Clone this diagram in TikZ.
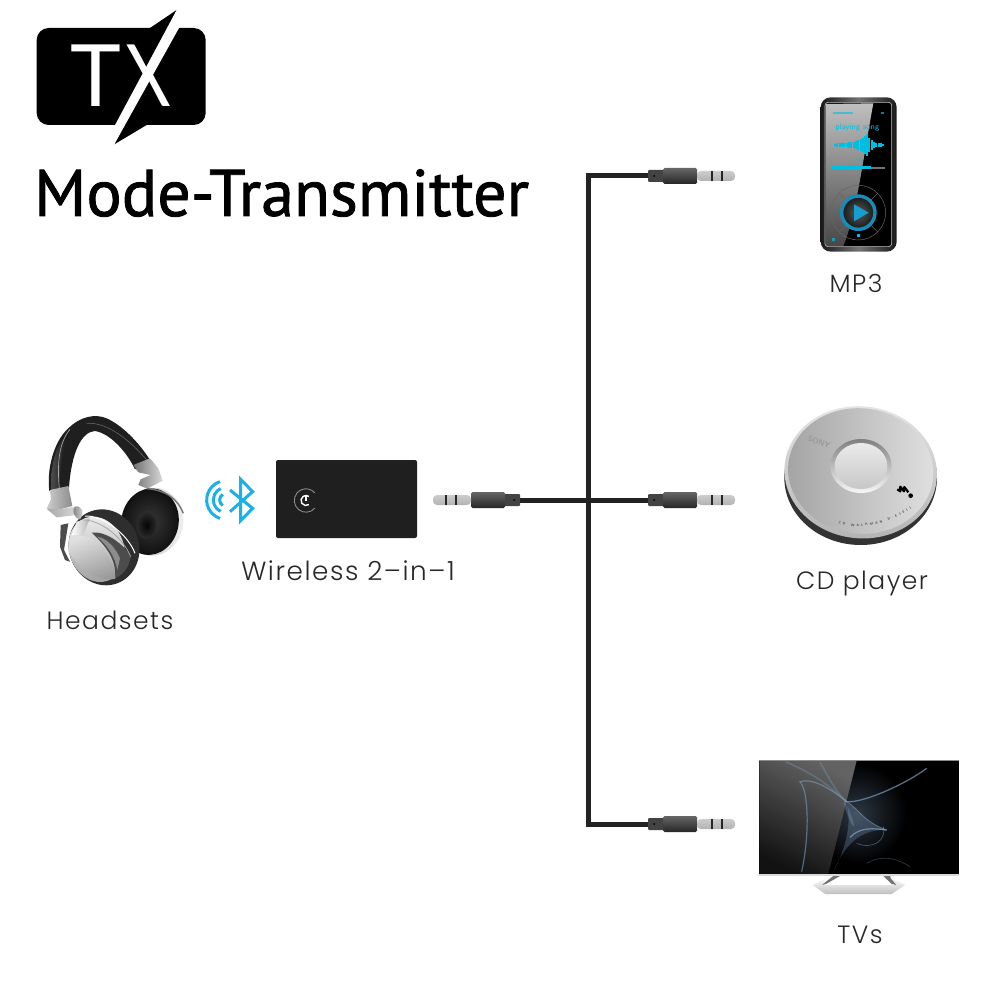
\documentclass[tikz,border=0pt]{standalone}
\usepackage{fontspec}
\usetikzlibrary{positioning, calc, decorations.text}
\newfontfamily\titlefont[FakeBold=1.3]{PT Sans}
\newfontfamily\badgefont{Lato}
\newfontfamily\labelfont[LetterSpace=6,UprightFont=* Light]{Poppins}
\definecolor{cablegray}{RGB}{34, 34, 34}
\definecolor{btblue}{RGB}{26, 176, 232}
\definecolor{lcdcyan}{RGB}{0, 190, 225}
\definecolor{labelgray}{RGB}{40, 40, 40}
\definecolor{wispblue}{RGB}{125, 155, 190}

\tikzset{
    jack/.pic={
        % strain relief, barrel, metal tip
        \fill[rounded corners=1pt, cablegray!85!white] (0,-6) rectangle (16,6);
        \shade[top color=black!60, bottom color=black!85, rounded corners=1.5pt] (15,-8) rectangle (49,8);
        \shade[top color=black!20, middle color=white, bottom color=black!30, rounded corners=4pt] (49,-5) rectangle (87,5);
        \fill[black!85] (63,-5) rectangle (65,5);
        \fill[black!85] (73,-5) rectangle (75,5);
        \fill[black] (6,0) circle (1);
        \coordinate (-wire) at (0,0);
    }
}

\begin{document}
\begin{tikzpicture}[
    x=1pt, y=-1pt,
    devicelabel/.style={text=labelgray, inner sep=0pt, anchor=base, font=\labelfont\fontsize{25}{30}\selectfont},
    badgeletter/.style={text=white, inner sep=0pt, anchor=base west, font=\badgefont\fontsize{86}{90}\selectfont},
    cable/.style={line width=5pt, cablegray, line join=miter},
    btstroke/.style={btblue, line width=3pt}
]
    \useasboundingbox (0,0) rectangle (1000,1000);
    \fill[white] (0,0) rectangle (1000,1000);

    % TX badge
    \begin{scope}[shift={(20,0)}, scale=1/3]
        \fill[black, rounded corners=12pt] (50,84) rectangle (557,375);
        \fill[black] (390,84) -- (470,30) -- (440,90) -- cycle;
        \fill[black] (380,375) -- (283,433) -- (320,360) -- cycle;
    \end{scope}
    \fill[white] (176.7,10) -- (189,10) -- (114.3,144.3) -- (104.7,144.3) -- cycle;
    \node[badgeletter] (txt) at (70,107) {T};
    \node[badgeletter, xscale=.82, transform shape] (txx) at (125,107) {X};
    \node[inner sep=0pt, anchor=base west, font=\titlefont\fontsize{66}{70}\selectfont] (title) at (34,216) {Mode-Transmitter};

    % Plugs and cables
    \pic[xscale=-1] (jackout) at (520,500) {jack};
    \pic (jackmp) at (648,176) {jack};
    \pic (jackcd) at (648,500) {jack};
    \pic (jacktv) at (648,824) {jack};
    \coordinate (hub) at (588,500);
    \draw[cable] (jackout-wire) -- (jackcd-wire);
    \draw[cable] (jackmp-wire) -| (hub) |- (jacktv-wire);

    % MP3 player
    \begin{scope}[shift={(780,80)}, scale=1/3]
        \shade[left color=black!90, right color=black!90, middle color=black!55, rounded corners=10pt] (122,52) rectangle (350,515);
        \fill[black, rounded corners=3pt] (135,67) rectangle (335,500);
        \shade[top color=black!25, bottom color=black!72] (137,72) -- (280,70) .. controls (250,230) and (230,400) .. (190,498) -- (137,498) -- cycle;
        \draw[black!25, line width=0.6pt, rounded corners=3pt] (135,67) rectangle (335,500);
        \fill[lcdcyan, opacity=.6] (160,97) rectangle (220,103);
        \fill[lcdcyan, opacity=.7] (304,95) rectangle (312,103);
        \node[text=lcdcyan, inner sep=0pt, font=\sffamily\fontsize{8}{9}\selectfont] (songname) at (232,143) {playing song};
        \foreach \wx/\wh in {165/4,172/5,179/5,186/6,193/7,200/7,207/8,214/9,221/10,228/13,235/15,242/17,249/20,256/28,262/34,268/22,275/15,282/9,289/7,296/6,303/5,309/3}
            \draw[lcdcyan, line width=2.3pt] (\wx,195-\wh) -- (\wx,195+\wh);
        \node[text=lcdcyan, opacity=.6, inner sep=0pt, font=\sffamily\fontsize{4}{5}\selectfont] (songtime) at (238,241) {1:58};
        \fill[black!55] (155,260) rectangle (315,266);
        \fill[lcdcyan] (155,259) rectangle (272,267);
        % round control pad
        \draw[black!60, line width=0.5pt] (235,398) circle (82);
        \foreach \padang in {45,135,225,315}
            \draw[black!60, line width=0.5pt] (235,398)+(\padang:52) -- +(\padang:82);
        \shade[inner color=black!65, outer color=black!90] (235,398) circle (48);
        \draw[black!20!btblue, line width=3.4pt] (235,398) circle (50);
        \fill[black!10!btblue] (222,373) -- (266,398) -- (222,424) -- cycle;
        \fill[lcdcyan] (232,462) rectangle (239,471);
        \fill[lcdcyan, opacity=.7] (156,473) rectangle (164,482);
    \end{scope}
    \node[devicelabel] (mplabel) at (856,292) {MP3};

    % CD player
    \begin{scope}[shift={(770,395)}, scale=1/3]
        \fill[black!80] (272,248) ellipse (229 and 202);
        \shade[top color=black!10, bottom color=black!30, rotate around={-6:(272,232)}] (272,232) ellipse (229 and 198);
        \shade[left color=black!36, right color=black!12, rotate around={-6:(272,228)}] (272,228) ellipse (218 and 188);
        \shade[top color=black!50, bottom color=black!3] (273,213) ellipse (92 and 81);
        \shade[top color=black!8, bottom color=black!22] (273,213) ellipse (79 and 69);
        \node[text=black!40, rotate=-20, inner sep=0pt, font=\sffamily\bfseries\fontsize{8}{9}\selectfont] (brandmark) at (147,142) {SONY};
        \draw[black, line width=2.2pt, line join=round] (382,283) -- (391,289) -- (391,275) -- (402,289) -- (403,276) -- (415,292);
        \fill[black] (422,302) circle (7);
        \path[decorate, decoration={text along path, text align={fit to path}, text={|\sffamily\bfseries\fontsize{3.4}{4}\selectfont\color{black!70}|CD WALKMAN D-EJ011}}]
            (205,385) .. controls (270,408) and (360,385) .. (425,340);
    \end{scope}
    \node[devicelabel] (cdlabel) at (862,589) {CD player};

    % TV set
    \begin{scope}[shift={(750,750)}, scale=1/3]
        \fill[black] (28,30) rectangle (628,372);
        \shade[inner color=wispblue!35!black, outer color=black] (320,190) circle (150);
        \shade[bottom color=black!92, top color=black!58, shading angle=-25, opacity=.92] (28,32) -- (320,32) -- (235,372) -- (28,372) -- cycle;
        \draw[black!45] (28,30) -- (628,30);
        \foreach \wispa/\wispb/\wispc/\wispd in {
            108/36/215/80, 210/36/240/90, 285/155/350/320}
            \draw[wispblue, line width=1.6pt, opacity=.35] (\wispa,\wispb) .. controls (\wispc,\wispd) and (260,130) .. (290,155);
        \draw[wispblue, line width=1.2pt, opacity=.6] (155,365) .. controls (180,250) and (175,120) .. (150,95) .. controls (200,80) and (270,140) .. (290,155);
        \fill[wispblue, opacity=.3] (290,155) .. controls (330,180) and (340,215) .. (410,240) .. controls (330,235) and (280,290) .. (250,365) .. controls (290,290) and (305,220) .. (290,155) -- cycle;
        \draw[wispblue, line width=1.2pt, opacity=.8] (300,262) .. controls (330,230) and (370,235) .. (410,240);
        \draw[wispblue, line width=0.8pt, opacity=.6] (290,155) .. controls (330,180) and (340,215) .. (410,240);
        \draw[wispblue, line width=0.7pt, opacity=.5] (320,280) .. controls (370,300) and (410,270) .. (400,230);
        \draw[wispblue, line width=0.7pt, opacity=.35] (350,340) .. controls (400,310) and (450,330) .. (480,350);
        \draw[wispblue, line width=1.3pt, opacity=.7] (290,155) .. controls (340,160) and (470,100) .. (530,55);
        \fill[black!15] (28,372) rectangle (628,379);
        \fill[black!55] (250,378) -- (270,378) -- (228,402) -- (215,405) -- cycle;
        \fill[black!55] (400,378) -- (420,378) -- (440,405) -- (425,402) -- cycle;
        \shade[top color=white, bottom color=black!25] (188,405) -- (235,382) -- (215,405) -- (440,405) -- (420,382) -- (465,405) -- (425,432) -- (225,432) -- cycle;
    \end{scope}
    \node[devicelabel] (tvlabel) at (860,943) {TVs};

    % Headphones
    \begin{scope}[shift={(40,410)}, scale=1/3]
        % back ear pad
        \shade[left color=black!30, right color=black!5, rotate around={-10:(338,335)}] (338,335) ellipse (92 and 102);
        \shade[inner color=black!78, outer color=black!95, rotate around={-10:(330,335)}] (330,335) ellipse (86 and 100);
        \shade[inner color=black!98, outer color=black!82, rotate around={-6:(320,345)}] (320,345) ellipse (30 and 42);
        % head band
        \fill[black!88] (28,243) .. controls (20,180) and (40,95) .. (85,55) .. controls (120,20) and (165,10) .. (200,25) .. controls (255,50) and (305,110) .. (330,150) -- (285,178) .. controls (260,125) and (210,70) .. (165,63) .. controls (125,65) and (95,125) .. (87,232) -- cycle;
        \shade[left color=black!70, right color=black!95] (35,190) .. controls (40,130) and (60,90) .. (90,60) .. controls (70,110) and (60,160) .. (58,235) -- (33,240) -- cycle;
        \draw[black!35, line width=0.7pt] (90,58) .. controls (60,95) and (50,150) .. (58,235);
        \draw[black!60, line width=0.6pt] (140,40) .. controls (200,35) and (270,90) .. (320,150);
        % sliders
        \shade[left color=black!55, right color=black!15] (280,165) -- (330,145) -- (355,175) -- (368,212) -- (322,236) -- (295,225) -- (302,208) -- (332,195) -- (295,187) -- cycle;
        \shade[left color=black!20, right color=black!45] (30,240) -- (85,228) -- (97,288) -- (60,298) -- (20,296) -- (33,268) -- cycle;
        \shade[left color=black!35, right color=black!15] (20,296) -- (60,298) -- (105,290) -- (110,315) -- (50,322) -- cycle;
        \draw[black!55, line width=1.4pt] (320,236) .. controls (380,240) and (415,270) .. (430,310);
        % cup arm
        \fill[black!70] (62,345) -- (85,340) -- (72,420) -- (90,455) -- (75,450) -- (60,410) -- cycle;
        % front cup
        \fill[black!82, rotate around={20:(192,412)}] (192,412) ellipse (105 and 115);
        \shade[top color=black!8, bottom color=black!38, rotate around={20:(170,418)}] (170,418) ellipse (82 and 100);
        \fill[black!70] (155,368) .. controls (195,362) and (250,400) .. (272,440) .. controls (268,470) and (250,495) .. (225,505) .. controls (230,450) and (200,410) .. (155,368) -- cycle;
        \fill[black!45] (172,380) .. controls (200,385) and (225,410) .. (240,445) -- (232,480) .. controls (225,440) and (205,410) .. (172,380) -- cycle;
        \shade[top color=black!12, bottom color=black!40, shading angle=20] (92,372) -- (150,382) .. controls (190,410) and (225,450) .. (226,506) .. controls (180,518) and (125,485) .. (85,425) -- cycle;
        \shade[left color=white, right color=black!30] (110,335) -- (150,325) -- (130,375) -- (95,375) -- cycle;
        \draw[white, line width=1pt] (135,318) .. controls (190,315) and (265,375) .. (285,430);
        \draw[black!35, line width=0.8pt] (130,330) .. controls (185,330) and (250,385) .. (272,440);
        % hinge
        \shade[left color=black!55, right color=black!10] (105,290) .. controls (125,283) and (135,310) .. (120,328) .. controls (105,328) and (92,300) .. (105,290) -- cycle;
    \end{scope}
    \node[devicelabel] (headlabel) at (110,629) {Headsets};

    % Bluetooth mark with radio waves
    \begin{scope}[shift={(20,390)}, scale=1/3]
        \draw[btstroke, line join=miter] (630,300) -- (698,355) -- (662,392) -- (662,268) -- (698,305) -- (630,365);
        \draw[btstroke] (618,330) ++(108:58) arc (108:252:58);
        \draw[btstroke] (618,330) ++(115:38) arc (115:245:38);
        \draw[btstroke] (618,330) ++(120:19) arc (120:240:19);
    \end{scope}

    % Wireless adapter
    \shade[top color=black!88, middle color=black!96, bottom color=black!88, rounded corners=2pt] (276,460) rectangle (417,538);
    \coordinate (powerdot) at (306,500.5);
    \draw[black!45, line width=0.9pt] (powerdot) ++(40:11.7) arc (40:320:11.7);
    \draw[white, line width=1.4pt] (powerdot) ++(55:5) arc (55:305:5);
    \draw[white, line width=1.4pt] (306,494.5) -- (306,500.5);
    \node[devicelabel, font=\labelfont\fontsize{26.3}{30}\selectfont] (adapterlabel) at (348,580) {Wireless 2–in–1};

\end{tikzpicture}
\end{document}
